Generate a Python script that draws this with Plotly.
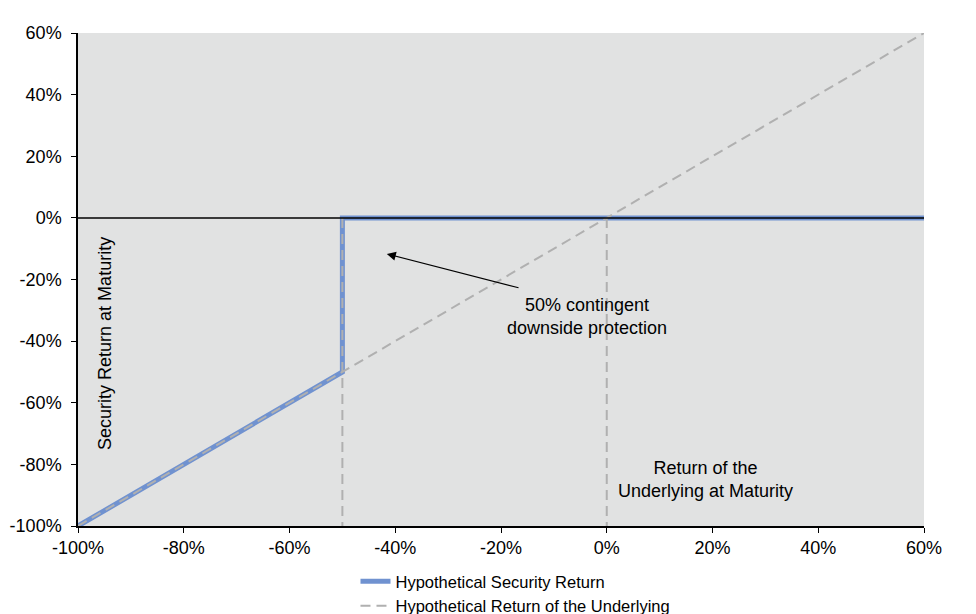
import plotly.graph_objects as go

# payoff of the security vs return of the underlying (in %)
security_x = [-100, -50, -50, 60]
security_y = [-100, -50, 0, 0]

underlying_x = [-100, 60]
underlying_y = [-100, 60]

# vertical guide lines (barrier and 0%)
guide_x = [-50, -50, None, 0, 0]
guide_y = [0, -100, None, 0, -100]

tick_vals = [-100, -80, -60, -40, -20, 0, 20, 40, 60]
tick_text = ['{}%'.format(v) for v in tick_vals]

font = 'Liberation Sans, Arial, sans-serif'
grey = '#b0b0b0'
dash = '10px,6px'

fig = go.Figure()

fig.add_trace(go.Scatter(x=security_x, y=security_y, mode='lines',
                         line=dict(color='#7092d0', width=5),
                         name='Hypothetical Security Return'))

fig.add_trace(go.Scatter(x=underlying_x, y=underlying_y, mode='lines',
                         line=dict(color=grey, width=2, dash=dash),
                         name='Hypothetical Return of the Underlying'))

fig.add_trace(go.Scatter(x=guide_x, y=guide_y, mode='lines',
                         line=dict(color=grey, width=2, dash=dash),
                         showlegend=False, hoverinfo='skip'))

# black line at 0%
fig.add_trace(go.Scatter(x=[-100, 60], y=[0, 0], mode='lines',
                         line=dict(color='black', width=1.5),
                         showlegend=False, hoverinfo='skip'))

fig.add_annotation(x=-94.9, y=-40.6, text='Security Return at Maturity',
                   textangle=-90, showarrow=False,
                   font=dict(family=font, size=18, color='black'))

fig.add_annotation(x=18.6, y=-85, text='Return of the<br>Underlying at Maturity',
                   showarrow=False,
                   font=dict(family=font, size=18, color='black'))

fig.add_annotation(x=-3.8, y=-31.9, text='50% contingent<br>downside protection',
                   showarrow=False,
                   font=dict(family=font, size=18, color='black'))

fig.add_annotation(x=-41.6, y=-11.7, ax=-16.4, ay=-22.8,
                   axref='x', ayref='y', text='', showarrow=True,
                   arrowhead=2, arrowsize=1.5, arrowwidth=1.2, arrowcolor='black')

axis_style = dict(range=[-100, 60], tickvals=tick_vals, ticktext=tick_text,
                  showgrid=False, zeroline=False, showline=True,
                  linecolor='black', linewidth=1.5, ticks='outside',
                  ticklen=5, tickcolor='black',
                  tickfont=dict(family=font, size=18, color='black'))
fig.update_xaxes(**axis_style)
fig.update_yaxes(**axis_style, ticklabelstandoff=6)

# page body has an 8px margin, so shift plot area back by that amount
fig.update_layout(
    width=976, height=614,
    margin=dict(l=70, r=60, t=25, b=96, autoexpand=False),
    plot_bgcolor='#e1e2e2', paper_bgcolor='white',
    font=dict(family=font, size=16, color='black'),
    legend=dict(x=0.328, y=-0.077, xanchor='left', yanchor='top',
                bgcolor='rgba(0,0,0,0)', font=dict(family=font, size=16.5),
                tracegroupgap=0),
)

fig.write_html("out.html")
